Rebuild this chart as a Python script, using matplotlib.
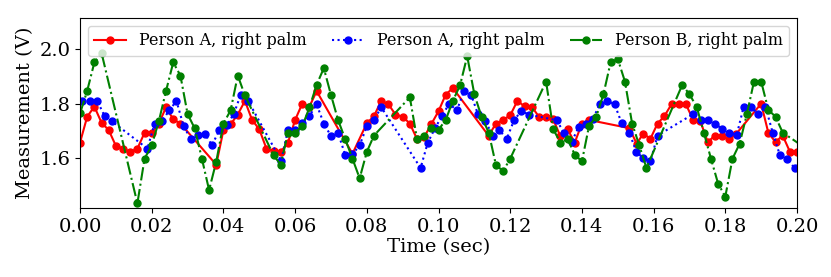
import matplotlib

matplotlib.use("Agg")
import matplotlib.pyplot as plt

plt.rcParams["font.family"] = ["DejaVu Serif"]
plt.rcParams["font.size"] = 14

# sample times (sec) and readings (V)
red_t = [0.000, 0.002, 0.004, 0.006, 0.008, 0.010, 0.012, 0.014, 0.016, 0.018, 0.020, 0.022, 0.024, 0.026, 0.028,
         0.038, 0.040, 0.042, 0.044, 0.046, 0.048, 0.050, 0.052, 0.054, 0.056, 0.058, 0.060, 0.062, 0.064, 0.066,
         0.076, 0.080, 0.082, 0.084, 0.086, 0.088, 0.090, 0.092, 0.094, 0.096, 0.098, 0.100, 0.102, 0.104,
         0.114, 0.116, 0.118, 0.120, 0.122, 0.124, 0.126, 0.128, 0.130, 0.132, 0.134, 0.136, 0.138, 0.140, 0.142,
         0.1532, 0.1553, 0.1571, 0.1591, 0.1611, 0.1630, 0.1650, 0.1670, 0.1690, 0.1710, 0.1730, 0.1751, 0.1771,
         0.1791, 0.1811, 0.1831,
         0.190, 0.192, 0.194, 0.196, 0.198, 0.200]
red_v = [1.657, 1.752, 1.789, 1.730, 1.703, 1.645, 1.635, 1.623, 1.635, 1.693, 1.693, 1.727, 1.787, 1.742, 1.727,
         1.576, 1.703, 1.724, 1.760, 1.810, 1.740, 1.706, 1.635, 1.625, 1.623, 1.657, 1.740, 1.800, 1.789, 1.846,
         1.616, 1.728, 1.754, 1.810, 1.798, 1.760, 1.752, 1.727, 1.670, 1.677, 1.725, 1.772, 1.833, 1.857,
         1.682, 1.727, 1.740, 1.757, 1.810, 1.790, 1.789, 1.752, 1.752, 1.742, 1.680, 1.706, 1.657, 1.727, 1.740,
         1.710, 1.653, 1.690, 1.671, 1.727, 1.754, 1.798, 1.798, 1.798, 1.741, 1.737, 1.659, 1.683,
         1.683, 1.669, 1.690,
         1.800, 1.693, 1.659, 1.683, 1.624, 1.624]

blue_t = [0.0006, 0.0027, 0.0048, 0.0069, 0.0088,
          0.0188, 0.0208, 0.0229, 0.0249, 0.0269, 0.0289, 0.0309, 0.0329, 0.0348, 0.0368, 0.0389, 0.0409, 0.0429,
          0.0448, 0.0469,
          0.0561, 0.0580, 0.0600, 0.0620, 0.0640, 0.0660, 0.0680, 0.0700, 0.0720, 0.0740, 0.0760, 0.0780, 0.0800,
          0.0820, 0.0840,
          0.0950, 0.0970, 0.0990, 0.1010, 0.1030, 0.1051, 0.1071, 0.1091, 0.1110, 0.1131, 0.1151, 0.1170, 0.1190,
          0.1211, 0.1231, 0.1252,
          0.1330, 0.1350, 0.1371, 0.1391, 0.1411, 0.1431, 0.1450, 0.1471, 0.1491, 0.1511, 0.1532, 0.1552, 0.1571,
          0.1591, 0.1611,
          0.1711, 0.1731, 0.1752, 0.1771, 0.1792, 0.1811, 0.1832, 0.1851, 0.1871, 0.1892, 0.1912, 0.1932, 0.1952,
          0.1972, 0.1993]
blue_v = [1.810, 1.810, 1.810, 1.753, 1.736,
          1.635, 1.727, 1.737, 1.775, 1.810, 1.717, 1.670, 1.685, 1.690, 1.647, 1.704, 1.720, 1.762,
          1.832, 1.810,
          1.590, 1.703, 1.703, 1.730, 1.755, 1.797, 1.727, 1.681, 1.692, 1.610, 1.614, 1.647, 1.717,
          1.739, 1.787,
          1.564, 1.657, 1.709, 1.756, 1.800, 1.775, 1.845, 1.833, 1.761, 1.736, 1.682, 1.703, 1.670,
          1.740, 1.773, 1.760,
          1.739, 1.692, 1.658, 1.715, 1.727, 1.745, 1.798, 1.810, 1.798, 1.728, 1.694, 1.623, 1.600,
          1.588, 1.683,
          1.762, 1.740, 1.740, 1.727, 1.706, 1.694, 1.686, 1.787, 1.787, 1.762, 1.789, 1.694, 1.612,
          1.598, 1.564]

green_t = [0.000, 0.002, 0.004, 0.006,
           0.016, 0.018, 0.020, 0.022, 0.024, 0.026, 0.028, 0.030, 0.032, 0.034, 0.036, 0.038, 0.040, 0.042,
           0.044, 0.046,
           0.054, 0.056, 0.058, 0.060, 0.062, 0.064, 0.066, 0.068, 0.070, 0.072, 0.074, 0.076, 0.078, 0.080,
           0.082,
           0.092, 0.094, 0.096, 0.098, 0.100, 0.102, 0.104, 0.106, 0.108, 0.110, 0.112, 0.114, 0.116, 0.118,
           0.120,
           0.130, 0.132, 0.134, 0.136, 0.138, 0.140, 0.142, 0.144, 0.146, 0.148, 0.150, 0.152, 0.154, 0.156,
           0.158,
           0.168, 0.170, 0.172, 0.174, 0.176, 0.178, 0.180, 0.182, 0.184, 0.186, 0.188, 0.190, 0.192, 0.194,
           0.196, 0.202]
green_v = [1.764, 1.847, 1.951, 1.986,
           1.434, 1.598, 1.647, 1.736, 1.847, 1.951, 1.903, 1.762, 1.709, 1.598, 1.483, 1.587, 1.727, 1.775,
           1.903, 1.830,
           1.610, 1.576, 1.694, 1.694, 1.717, 1.786, 1.869, 1.930, 1.832, 1.739, 1.669, 1.598, 1.526, 1.623,
           1.683,
           1.823, 1.670, 1.683, 1.712, 1.704, 1.740, 1.810, 1.867, 1.974, 1.834, 1.752, 1.694, 1.576, 1.552,
           1.598,
           1.881, 1.706, 1.657, 1.670, 1.613, 1.588, 1.719, 1.752, 1.834, 1.951, 1.964, 1.881, 1.727, 1.647,
           1.564,
           1.869, 1.834, 1.789, 1.694, 1.598, 1.506, 1.459, 1.598, 1.653, 1.761, 1.881, 1.881, 1.777, 1.752,
           1.694, 1.640]

labels = ["Person A, right palm", "Person A, right palm", "Person B, right palm"]

fig = plt.figure(figsize=(8.31, 2.77), dpi=100)
ax = fig.add_axes([0.0963, 0.249, 0.8628, 0.686])

ax.plot(red_t, red_v, "r-", marker="o", markersize=5, linewidth=1.5, label=labels[0])
ax.plot(blue_t, blue_v, "b:", marker="o", markersize=5, linewidth=1.5, label=labels[1])
ax.plot(green_t, green_v, "g-.", marker="o", markersize=5, linewidth=1.5, label=labels[2])

ax.set_xlim(0, 0.2)
ax.set_ylim(1.417, 2.114)
ax.set_xticks([i * 0.02 for i in range(11)])
ax.set_xticklabels([f"{i * 0.02:.2f}" for i in range(11)])
ax.set_yticks([1.6, 1.8, 2.0])
ax.set_xlabel("Time (sec)", labelpad=2)
ax.set_ylabel("Measurement (V)")
ax.legend(loc="upper center", ncol=3, mode="expand", bbox_to_anchor=(0, 0, 1, 1), fontsize=11.5)

fig.savefig("out.png", dpi=100)
